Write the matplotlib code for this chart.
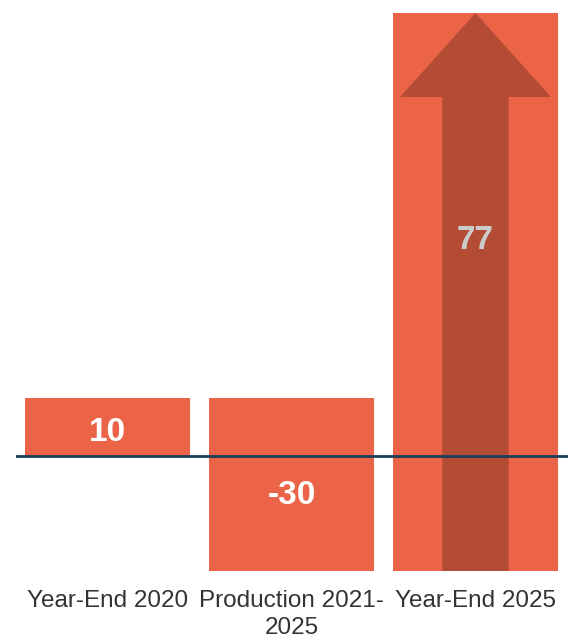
"""Waterfall-style bar chart with an overlaid up-arrow on the final bar."""

import matplotlib
matplotlib.use("Agg")
import matplotlib.pyplot as plt
from matplotlib.patches import Polygon

plt.rcParams["font.family"] = ["Liberation Sans", "DejaVu Sans"]

categories = ["Year-End 2020", "Production 2021-\n2025", "Year-End 2025"]
bar_bottoms = [0, 10, -20]
bar_tops = [10, -20, 77]
value_labels = ["10", "-30", "77"]

BAR_COLOR = "#EC6447"
ARROW_COLOR = "#B44B34"
LINE_COLOR = "#17405C"

fig = plt.figure(figsize=(5.77, 6.43), dpi=100)
ax = fig.add_axes([15.5 / 577, 72 / 643, 552 / 577, 558 / 643])

x = range(len(categories))
heights = [t - b for b, t in zip(bar_bottoms, bar_tops)]
ax.bar(x, heights, bottom=bar_bottoms, width=0.897, color=BAR_COLOR, zorder=1)

# arrow overlay on the final bar
xc = 2
lo, hi = bar_bottoms[-1], bar_tops[-1]
shaft, head, head_base = 0.18, 0.41, 62.4
arrow = Polygon(
    [
        (xc - shaft, lo), (xc + shaft, lo), (xc + shaft, head_base),
        (xc + head, head_base), (xc, hi), (xc - head, head_base),
        (xc - shaft, head_base),
    ],
    closed=True, facecolor=ARROW_COLOR, edgecolor="none", zorder=2,
)
ax.add_patch(arrow)

ax.axhline(0, color=LINE_COLOR, linewidth=2, zorder=3)

label_y = [4.1, -6.9, 37.5]
label_colors = ["white", "white", "#CBCBCB"]
for i, (txt, y, c) in enumerate(zip(value_labels, label_y, label_colors)):
    ax.text(i, y, txt, ha="center", va="center", fontsize=24,
            fontweight="bold", color=c, zorder=4)

ax.set_xlim(-0.5, 2.5)
ax.set_ylim(-20, 77)
ax.set_xticks(list(x))
ax.set_xticklabels(categories, fontsize=17.5, color="#333333", linespacing=1.25)
ax.tick_params(axis="x", length=0, pad=14)
ax.set_yticks([])
for spine in ax.spines.values():
    spine.set_visible(False)

fig.savefig("out.png", dpi=100)
